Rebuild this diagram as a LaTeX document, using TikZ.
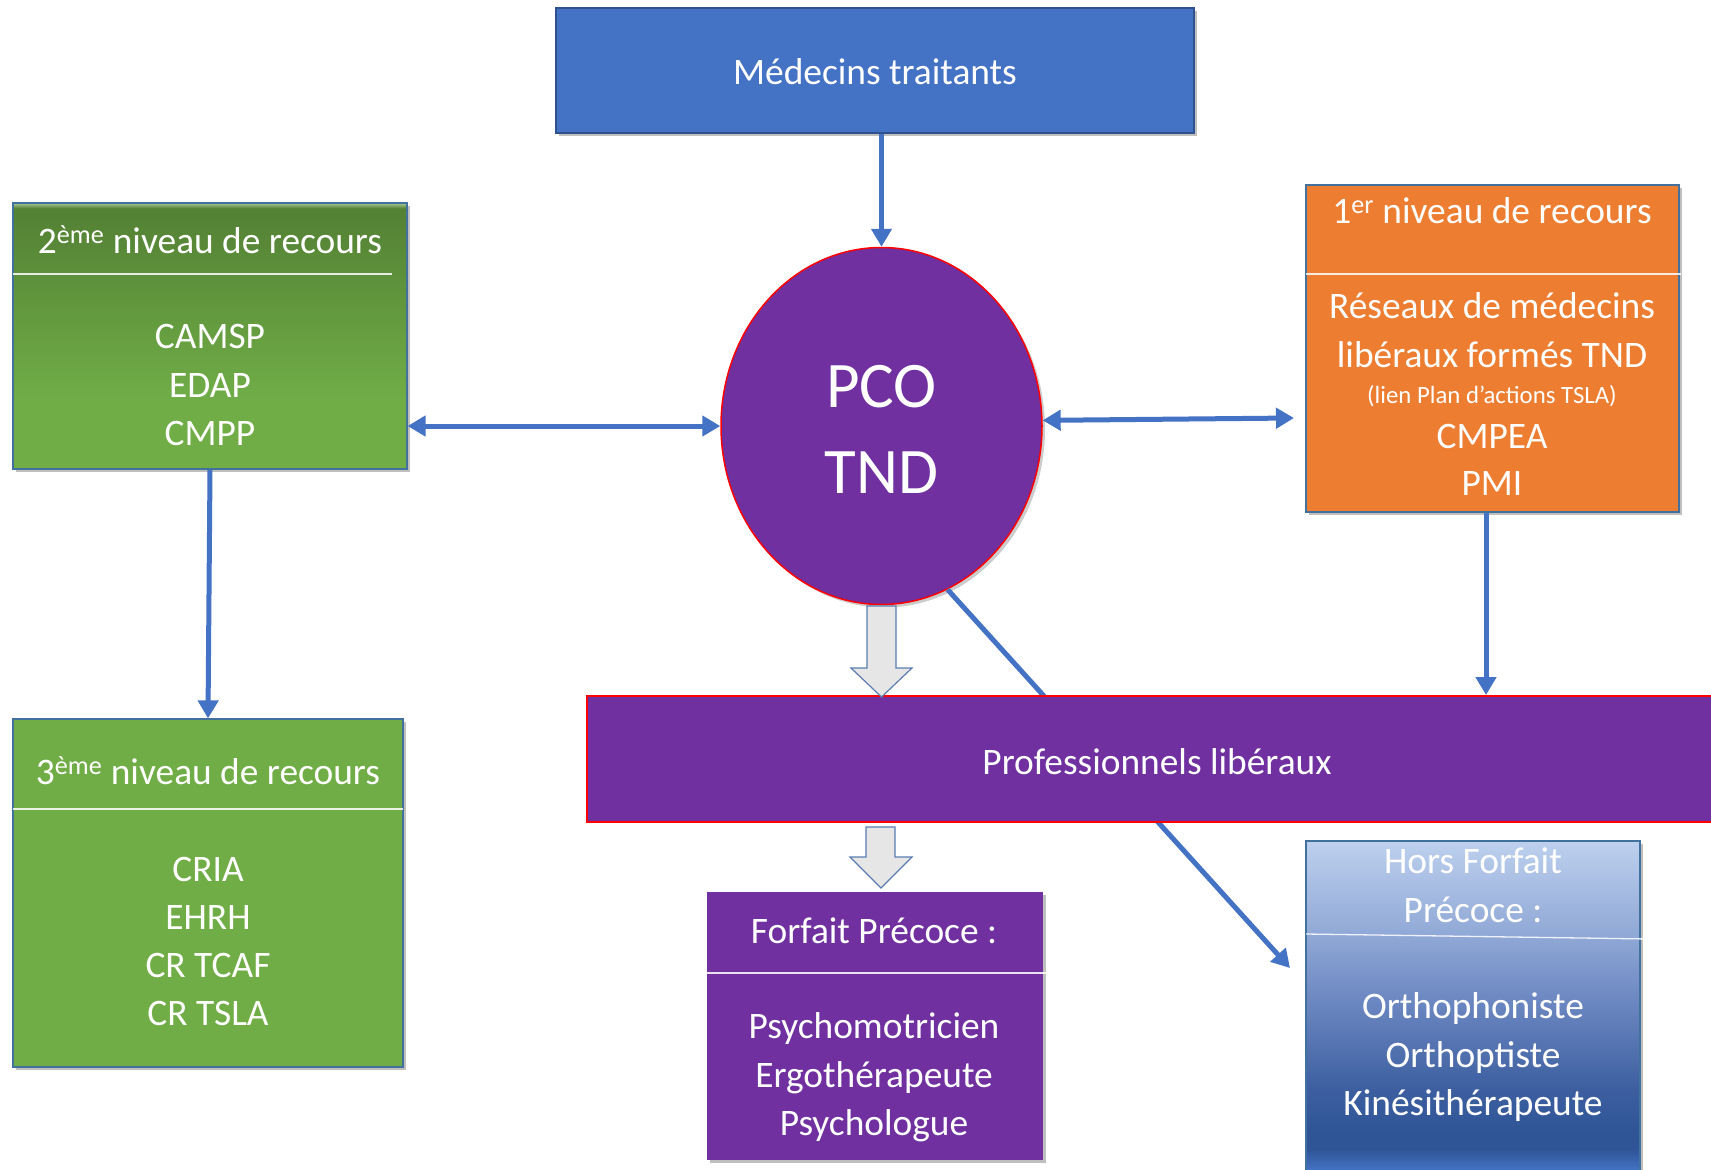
\documentclass[tikz,border=0pt]{standalone}
\usepackage{fontspec}
\setmainfont{Carlito}
\usetikzlibrary{shadows,arrows.meta,calc,shapes.geometric}
\definecolor{ablue}{HTML}{4472C4}
\definecolor{medborder}{HTML}{2F528F}
\definecolor{bxborder}{HTML}{41719C}
\definecolor{ppurple}{HTML}{7030A0}
\definecolor{oorange}{HTML}{ED7D31}
\definecolor{ggreen}{HTML}{70AD47}
\definecolor{gdark}{HTML}{548235}
\definecolor{glight}{HTML}{A9C996}
\definecolor{hftop}{HTML}{BDD0EE}
\definecolor{hfsep}{HTML}{91A9D6}
\definecolor{hfmid}{HTML}{6A86C0}
\definecolor{hflow}{HTML}{3D5FA0}
\definecolor{hfdark}{HTML}{2F5597}
\definecolor{hfbot}{HTML}{4472C4}
\definecolor{hgray}{HTML}{E7E6E6}
\definecolor{hborder}{HTML}{5B7DB1}
\pgfdeclareverticalshading{gtwoshade}{100bp}{color(0bp)=(ggreen); color(38bp)=(ggreen); color(72.7bp)=(gdark); color(74bp)=(gdark); color(75bp)=(glight); color(100bp)=(glight)}
\pgfdeclareverticalshading{hfshade}{100bp}{color(0bp)=(hfbot); color(28.5bp)=(hfbot); color(31.5bp)=(hfdark); color(34bp)=(hfdark); color(40bp)=(hflow); color(52bp)=(hfmid); color(62bp)=(hfsep); color(75bp)=(hftop); color(100bp)=(hftop)}
\begin{document}
\begin{tikzpicture}[x=1pt,y=-1pt,
  arr/.style={draw=ablue, line width=5pt, -{Triangle[length=18pt,width=20pt]}},
  arrtwo/.style={draw=ablue, line width=5pt, {Triangle[length=18pt,width=20pt]}-{Triangle[length=18pt,width=20pt]}},
  boxstyle/.style={rectangle, draw=bxborder, line width=1.2pt, inner sep=0pt,
    drop shadow={shadow xshift=3pt, shadow yshift=-3pt, opacity=0.25, fill=black}},
  txt/.style={text=white, font=\fontsize{37.4}{45}\selectfont, anchor=base, inner sep=0pt},
  smalltxt/.style={text=white, font=\fontsize{24.8}{30}\selectfont, anchor=base, inner sep=0pt},
  bigtxt/.style={text=white, font=\fontsize{65}{78}\selectfont, anchor=base, inner sep=0pt},
  sep/.style={draw=white, line width=1.3pt, opacity=0.85},
  hollow/.style={draw=hborder, fill=hgray, line width=1.2pt, line join=miter}
]
\fill[white] (0,0) rectangle (1711,1170);
\clip (0,0) rectangle (1711,1170);

% Medecins traitants
\node[boxstyle, fill=ablue, draw=medborder, minimum width=638, minimum height=125] (med) at (875,70.5) {};
\node[txt] (medtxt) at (875,84) {Médecins traitants};

% PCO TND
\node[ellipse, fill=ppurple, draw=red, line width=1.5pt, minimum width=321, minimum height=357, inner sep=0pt,
  drop shadow={shadow xshift=3pt, shadow yshift=-3pt, opacity=0.2, fill=black}] (pco) at (881.5,426) {};
\node[bigtxt] (pcotxt) at (881.5,407) {PCO};
\node[bigtxt] (tndtxt) at (881.5,493) {TND};

% 2eme niveau
\node[boxstyle, shade, shading=gtwoshade, minimum width=394, minimum height=266] (g2) at (210,336) {};
\draw[sep] (13,274) -- (392,274);
\node[txt] (g2h) at (210,253) {2\textsuperscript{ème} niveau de recours};
\node[txt] (g2a) at (210,348) {CAMSP};
\node[txt] (g2b) at (210,397) {EDAP};
\node[txt] (g2c) at (210,445) {CMPP};

% 1er niveau
\node[boxstyle, fill=oorange, minimum width=373, minimum height=327] (org) at (1492.5,348.5) {};
\draw[sep] (1306,274) -- (1681,274);
\node[txt] (orgh) at (1492,223) {1\textsuperscript{er} niveau de recours};
\node[txt] (orga) at (1492,318) {Réseaux de médecins};
\node[txt] (orgb) at (1492,367) {libéraux formés TND};
\node[smalltxt] (orgc) at (1492,403) {(lien Plan d’actions TSLA)};
\node[txt] (orgd) at (1492,448) {CMPEA};
\node[txt] (orge) at (1492,495) {PMI};

% 3eme niveau
\node[boxstyle, fill=ggreen, minimum width=390, minimum height=348] (g3) at (208,893) {};
\draw[sep] (13,809) -- (403,809);
\node[txt] (g3h) at (208,784) {3\textsuperscript{ème} niveau de recours};
\node[txt] (g3a) at (208,881) {CRIA};
\node[txt] (g3b) at (208,929) {EHRH};
\node[txt] (g3c) at (208,977) {CR TCAF};
\node[txt] (g3d) at (208,1025) {CR TSLA};

% connectors
\draw[arr] (med.south -| pco.north) -- (pco.north);
\draw[arrtwo] (g2.east |- pco.west) -- (pco.west);
\coordinate (rtip) at (1294,418);
\draw[arrtwo] (pco.2) -- (rtip);
\draw[arr] (g2.south) -- (g3.north);
\coordinate (hftip) at (1290,968);
\draw[arr] (pco.-68.6) -- (hftip);

% Professionnels liberaux
\node[rectangle, fill=ppurple, draw=red, line width=2pt, minimum width=1140, minimum height=126, inner sep=0pt] (prof) at (1157,759) {};
\node[txt] (proftxt) at (1157,774) {Professionnels libéraux};
\draw[arr] ([xshift=-6.5pt]org.south) -- ([xshift=-6.5pt]org.south |- prof.north);

% hollow arrows
\draw[hollow] (867,606) -- (896,606) -- (896,668) -- (912,668) -- (881.5,697) -- (851,668) -- (867,668) -- cycle;
\draw[hollow] (866,827) -- (895,827) -- (895,857) -- (912,857) -- (881,888) -- (850,857) -- (866,857) -- cycle;

% Forfait precoce
\node[rectangle, fill=ppurple, inner sep=0pt, minimum width=336, minimum height=268,
  drop shadow={shadow xshift=3pt, shadow yshift=-3pt, opacity=0.25, fill=black}] (forf) at (875,1026) {};
\draw[sep] (707,973) -- (1048,973);
\node[txt] (forfh) at (874,943) {Forfait Précoce :};
\node[txt] (forfa) at (874,1038) {Psychomotricien};
\node[txt] (forfb) at (874,1087) {Ergothérapeute};
\node[txt] (forfc) at (874,1135) {Psychologue};

% Hors forfait
\node[boxstyle, shade, shading=hfshade, minimum width=334, minimum height=354] (hf) at (1473,1018) {};
\draw[sep] (1306,934) -- (1650,939);
\node[txt] (hfh) at (1473,873) {Hors Forfait};
\node[txt] (hfh2) at (1473,922) {Précoce :};
\node[txt] (hfa) at (1473,1018) {Orthophoniste};
\node[txt] (hfb) at (1473,1067) {Orthoptiste};
\node[txt] (hfc) at (1473,1115) {Kinésithérapeute};
\end{tikzpicture}
\end{document}
